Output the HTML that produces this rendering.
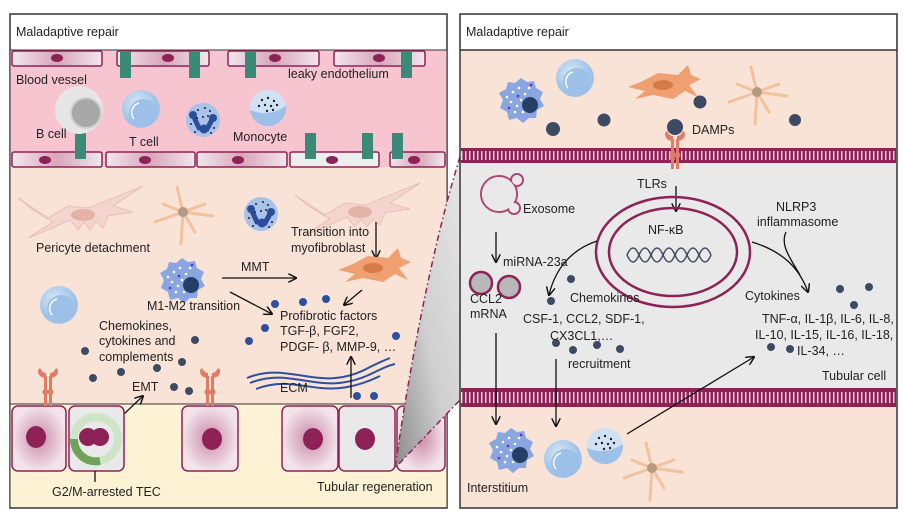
<!DOCTYPE html>
<html><head><meta charset="utf-8"><style>
html,body{margin:0;padding:0;background:#fff;}
svg{display:block;font-family:"Liberation Sans",sans-serif;}
text{font-size:12.5px;fill:#222;}
</style></head><body>
<svg width="903" height="516" viewBox="0 0 903 516" xmlns="http://www.w3.org/2000/svg">
<defs>
<linearGradient id="endo" x1="0" x2="1"><stop offset="0" stop-color="#f3e6ec"/><stop offset="0.5" stop-color="#d9a5ba"/><stop offset="1" stop-color="#f3e6ec"/></linearGradient>
<radialGradient id="tub"><stop offset="0" stop-color="#c98aa6"/><stop offset="1" stop-color="#f3e3ea"/></radialGradient>
<linearGradient id="wedge" x1="0" y1="1" x2="1" y2="0"><stop offset="0" stop-color="#8a8a8a"/><stop offset="0.45" stop-color="#cfcfcf"/><stop offset="1" stop-color="#e6e6e6"/></linearGradient>
<radialGradient id="tcell" cx="0.4" cy="0.35"><stop offset="0" stop-color="#d8e8f7"/><stop offset="1" stop-color="#9fc3e8"/></radialGradient>
<g id="recep" fill="#e07b66">
<rect x="-4" y="0" width="3" height="30"/><rect x="1" y="0" width="3" height="30"/>
<path d="M-2,2 C-10,2 -12,-6 -8,-8 C-6,-4 -4,-3 -2,-3Z"/><path d="M2,2 C10,2 12,-6 8,-8 C6,-4 4,-3 2,-3Z"/>
<circle cx="-2.5" cy="16" r="3"/><circle cx="2.5" cy="16" r="3"/>
</g>
<g id="macro">
<path d="M0,-22 L6,-18 L13,-19 L15,-12 L22,-8 L19,-1 L23,6 L16,10 L15,18 L8,18 L2,23 L-4,18 L-12,20 L-14,12 L-21,8 L-18,0 L-22,-7 L-15,-11 L-13,-18 L-6,-17Z" fill="#8aa6e0"/>
<g fill="#fff"><circle cx="-8" cy="-8" r="1.3"/><circle cx="-2" cy="-12" r="1.3"/><circle cx="4" cy="-6" r="1.3"/><circle cx="-10" cy="2" r="1.3"/><circle cx="-4" cy="6" r="1.3"/><circle cx="0" cy="0" r="1.3"/><circle cx="8" cy="-12" r="1.3"/><circle cx="-14" cy="-3" r="1.3"/><circle cx="-6" cy="12" r="1.3"/><circle cx="2" cy="12" r="1.3"/></g>
<g fill="#6a2bc0"><circle cx="10" cy="-15" r="1.3"/><circle cx="-12" cy="8" r="1.3"/><circle cx="15" cy="2" r="1.3"/><circle cx="-3" cy="-4" r="1.3"/></g>
<circle cx="9" cy="5" r="8" fill="#243f66"/>
</g>
<g id="neut"><circle r="17" fill="#a9c2ea"/><path d="M-10,-5 L-4,8 L4,9 L10,-2" stroke="#2b4d9a" stroke-width="5" fill="none" stroke-linecap="round"/><circle cx="-10" cy="-5" r="4" fill="#2b4d9a"/><circle cx="10" cy="-2" r="4" fill="#2b4d9a"/><circle cx="1" cy="9" r="4.5" fill="#2b4d9a"/>
<g fill="#222"><circle cx="-5" cy="-10" r="1"/><circle cx="2" cy="-12" r="1"/><circle cx="7" cy="-9" r="1"/><circle cx="-12" cy="4" r="1"/><circle cx="11" cy="8" r="1"/><circle cx="0" cy="-3" r="1"/><circle cx="-6" cy="-2" r="1"/><circle cx="5" cy="-4" r="1"/><circle cx="-8" cy="12" r="1"/><circle cx="8" cy="13" r="1"/></g></g>
<g id="tc"><circle r="19" fill="url(#tcell)"/><circle cx="2" cy="4" r="14" fill="#9dc0e8"/><path d="M-7,10 A10,10 0 0 1 -2,-6" stroke="#fff" stroke-width="1.5" fill="none"/></g>
<g id="mono"><circle r="18" fill="#cfe1f3"/><path d="M-18,2 Q0,10 18,-2 A18,18 0 0 1 -18,2Z" fill="#9dc0e8"/><g fill="#222"><circle cx="-6" cy="-8" r="1.2"/><circle cx="0" cy="-10" r="1.2"/><circle cx="6" cy="-7" r="1.2"/><circle cx="-9" cy="-2" r="1.2"/><circle cx="-3" cy="-3" r="1.2"/><circle cx="3" cy="-2" r="1.2"/><circle cx="9" cy="-3" r="1.2"/><circle cx="-1" cy="3" r="1.2"/><circle cx="5" cy="2" r="1.2"/></g></g>
<g id="star" stroke="#f1c29c" stroke-width="3" fill="none" stroke-linecap="round"><path d="M0,0 L-6,-25 M0,0 L22,-8 M0,0 L30,4 M0,0 L12,20 M0,0 L-2,32 M0,0 L-28,10 M0,0 L-20,-8"/><circle r="5" fill="#b39a82" stroke="none"/></g>
<g id="myo"><path d="M-35,0 L-20,-6 L-5,-14 L15,-12 L25,-22 L28,-12 L38,-8 L26,-2 L35,10 L22,4 L10,12 L-10,8 L-28,12 L-18,4Z" fill="#ef9f70"/><ellipse cx="0" cy="-2" rx="10" ry="5" fill="#d67a48"/></g>
<g id="fib"><path d="M-70,-20 L-40,0 L-20,-12 L0,-10 L20,-18 L55,-32 L25,-12 L45,-6 L20,-2 L15,10 L8,4 L2,12 L-4,4 L-10,12 L-18,2 L-40,12 L-60,20 L-35,4 L-55,-8Z" fill="#f3d4ce" stroke="#e8b9b2" stroke-width="0.8"/><ellipse cx="-5" cy="-3" rx="12" ry="6" fill="#e3b3a8"/></g>
<marker id="ah" viewBox="0 0 10 10" refX="9" refY="5" markerWidth="7" markerHeight="7" orient="auto"><path d="M0,0 L10,5 L0,10" fill="none" stroke="#111" stroke-width="1.6"/></marker>
</defs>

<rect x="10" y="14" width="437" height="494" fill="#fff" stroke="#333" stroke-width="1.5"/>
<text x="16" y="36">Maladaptive repair</text>
<rect x="10.5" y="50" width="436" height="117" fill="#f7c5cf"/>
<rect x="10.5" y="167" width="436" height="237" fill="#f9e3d6"/>
<rect x="10.5" y="404" width="436" height="103" fill="#fdf3d4"/>
<line x1="10" y1="404" x2="447" y2="404" stroke="#333"/>
<line x1="10" y1="50" x2="447" y2="50" stroke="#333"/>
<g stroke="#8e2257" stroke-width="1.5" fill="url(#endo)">
<rect x="12" y="51" width="90" height="15" rx="2"/><rect x="117" y="51" width="92" height="15" rx="2"/><rect x="228" y="51" width="91" height="15" rx="2"/><rect x="334" y="51" width="91" height="15" rx="2"/>
<rect x="12" y="152" width="90" height="15" rx="2"/><rect x="106" y="152" width="89" height="15" rx="2"/><rect x="197" y="152" width="90" height="15" rx="2"/><rect x="290" y="152" width="89" height="15" rx="2" fill="#eee"/><rect x="390" y="152" width="55" height="15" rx="2"/>
</g>
<g fill="#8e2257"><ellipse cx="57" cy="58" rx="6" ry="4"/><ellipse cx="168" cy="58" rx="6" ry="4"/><ellipse cx="275" cy="58" rx="6" ry="4"/><ellipse cx="379" cy="58" rx="6" ry="4"/>
<ellipse cx="45" cy="160" rx="6" ry="4"/><ellipse cx="145" cy="160" rx="6" ry="4"/><ellipse cx="238" cy="160" rx="6" ry="4"/><ellipse cx="332" cy="160" rx="6" ry="4"/><ellipse cx="414" cy="160" rx="6" ry="4"/></g>
<g fill="#3b8a78"><rect x="120" y="52" width="11" height="26"/><rect x="189" y="52" width="11" height="26"/><rect x="245" y="52" width="11" height="26"/><rect x="401" y="52" width="11" height="26"/>
<rect x="75" y="133" width="11" height="26"/><rect x="305" y="133" width="11" height="26"/><rect x="362" y="133" width="11" height="26"/><rect x="392" y="133" width="11" height="26"/></g>
<text x="16" y="84">Blood vessel</text>
<text x="288" y="78">leaky endothelium</text>
<circle cx="79" cy="110" r="24" fill="#e6e6e6"/><circle cx="86" cy="113" r="15" fill="#a8a8a8" stroke="#d0d0d0" stroke-width="2"/>
<text x="36" y="138">B cell</text>
<use href="#tc" x="141" y="109"/>
<text x="129" y="146">T cell</text>
<use href="#neut" x="203" y="120"/>
<use href="#mono" x="268" y="108"/>
<text x="233" y="141">Monocyte</text>
<use href="#fib" x="88" y="218"/>
<use href="#star" x="183" y="212"/>
<use href="#neut" x="261" y="214"/>
<use href="#fib" x="365" y="215"/>
<text x="36" y="252">Pericyte detachment</text>
<text x="291" y="236">Transition into</text>
<text x="291" y="252">myofibroblast</text>
<line x1="376" y1="222" x2="376" y2="258" stroke="#111" stroke-width="1.3" marker-end="url(#ah)"/>
<use href="#myo" x="373" y="270"/>
<use href="#macro" x="182" y="280"/>
<text x="147" y="310">M1-M2 transition</text>
<text x="241" y="271">MMT</text>
<line x1="222" y1="278" x2="296" y2="278" stroke="#111" stroke-width="1.3" marker-end="url(#ah)"/>
<line x1="230" y1="292" x2="272" y2="314" stroke="#111" stroke-width="1.3" marker-end="url(#ah)"/>
<line x1="362" y1="290" x2="344" y2="305" stroke="#111" stroke-width="1.3" marker-end="url(#ah)"/>
<use href="#tc" x="59" y="305"/>
<text x="280" y="320">Profibrotic factors</text>
<text x="280" y="335">TGF-β,  FGF2,</text>
<text x="280" y="351">PDGF- β, MMP-9, …</text>
<text x="99" y="330">Chemokines,</text>
<text x="99" y="345">cytokines and</text>
<text x="99" y="361">complements</text>
<g fill="#2d4f9e"><circle cx="275" cy="304" r="4"/><circle cx="303" cy="302" r="4"/><circle cx="326" cy="299" r="4"/><circle cx="265" cy="328" r="4"/><circle cx="249" cy="341" r="4"/><circle cx="396" cy="336" r="4"/><circle cx="357" cy="396" r="4"/><circle cx="374" cy="396" r="4"/></g>
<g fill="#3d4a63"><circle cx="195" cy="340" r="4"/><circle cx="85" cy="351" r="4"/><circle cx="182" cy="362" r="4"/><circle cx="157" cy="368" r="4"/><circle cx="121" cy="372" r="4"/><circle cx="93" cy="378" r="4"/><circle cx="174" cy="387" r="4"/><circle cx="189" cy="391" r="4"/></g>
<text x="132" y="391">EMT</text>
<g stroke="#2d4f9e" stroke-width="2" fill="none"><path d="M247,378 C290,360 320,395 370,367 C380,362 385,360 390,358"/><path d="M250,383 C295,365 320,400 375,372 C385,367 390,365 395,364"/><path d="M256,389 C300,372 320,405 380,376"/></g>
<text x="280" y="392">ECM</text>
<line x1="351" y1="398" x2="351" y2="357" stroke="#111" stroke-width="1.3" marker-end="url(#ah)"/>
<line x1="124" y1="414" x2="143" y2="396" stroke="#111" stroke-width="1.3" marker-end="url(#ah)"/>
<g stroke="#8e2257" stroke-width="1.5">
<rect x="12" y="406" width="54" height="65" rx="6" fill="url(#tub)"/>
<rect x="69" y="406" width="55" height="65" rx="6" fill="#e9e9e9"/>
<rect x="182" y="406" width="56" height="65" rx="6" fill="url(#tub)"/>
<rect x="282" y="406" width="56" height="65" rx="6" fill="url(#tub)"/>
<rect x="339" y="406" width="56" height="65" rx="6" fill="#e9e9e9"/>
<rect x="397" y="406" width="48" height="65" rx="6" fill="url(#tub)"/>
</g>
<g fill="#8e2257"><ellipse cx="36" cy="437" rx="10" ry="11"/><ellipse cx="212" cy="439" rx="10" ry="11"/><ellipse cx="313" cy="439" rx="10" ry="11"/><ellipse cx="365" cy="439" rx="10" ry="11"/></g>
<circle cx="96" cy="439" r="22" fill="none" stroke="#cfe3c6" stroke-width="8"/>
<path d="M74,439 A22,22 0 0 0 100,461" fill="none" stroke="#6fa25a" stroke-width="8"/>
<g fill="#8e2257"><circle cx="88" cy="437" r="9"/><circle cx="100" cy="437" r="9"/></g>
<line x1="95" y1="471" x2="95" y2="482" stroke="#111" stroke-width="1.3"/>
<text x="52" y="496">G2/M-arrested TEC</text>
<text x="317" y="491">Tubular  regeneration</text>
<use href="#recep" x="48" y="376"/>
<use href="#recep" x="210" y="376"/>

<path d="M460,157 C440,220 415,330 395,468 L460,400 Z" fill="url(#wedge)"/>
<path d="M460,157 C440,220 415,330 395,468 L460,400" fill="none" stroke="#8e2257" stroke-width="1.5" stroke-dasharray="6,3,1.5,3"/>

<rect x="460" y="14" width="437" height="494" fill="#f9e3d6" stroke="#333" stroke-width="1.5"/>
<rect x="461" y="15" width="435" height="35" fill="#fff"/>
<line x1="460" y1="50" x2="897" y2="50" stroke="#333" stroke-width="1.5"/>
<text x="466" y="36">Maladaptive repair</text>
<rect x="461" y="163" width="435" height="225" fill="#e9e9e9"/>
<rect x="461" y="148" width="435" height="15" fill="#8e2257"/>
<line x1="461" y1="155.5" x2="896" y2="155.5" stroke="#f4e6ee" stroke-width="9" stroke-dasharray="1.4,2.6"/>
<rect x="461" y="388" width="435" height="19" fill="#8e2257"/>
<line x1="461" y1="397.5" x2="896" y2="397.5" stroke="#f4e6ee" stroke-width="11" stroke-dasharray="1.4,2.6"/>
<use href="#macro" x="521" y="100"/>
<use href="#tc" x="575" y="78"/>
<use href="#myo" x="663" y="87"/>
<use href="#star" x="757" y="92"/>
<g fill="#3d4a63"><circle cx="553" cy="129" r="7"/><circle cx="604" cy="120" r="6.5"/><circle cx="700" cy="102" r="6.5"/><circle cx="795" cy="120" r="6"/><circle cx="675" cy="127" r="8"/></g>
<text x="692" y="134">DAMPs</text>
<use href="#recep" x="675" y="139"/>
<text x="637" y="188">TLRs</text>
<line x1="676" y1="186" x2="676" y2="211" stroke="#111" stroke-width="1.3" marker-end="url(#ah)"/>
<g fill="none" stroke="#b0466f" stroke-width="2"><circle cx="499" cy="194" r="18"/><circle cx="517" cy="180" r="6"/><circle cx="514" cy="208" r="6"/></g>
<g fill="#e9e9e9"><circle cx="499" cy="194" r="17"/><circle cx="517" cy="180" r="5"/><circle cx="514" cy="208" r="5"/></g>
<text x="523" y="213">Exosome</text>
<line x1="496" y1="232" x2="496" y2="262" stroke="#111" stroke-width="1.3" marker-end="url(#ah)"/>
<text x="503" y="266">miRNA-23a</text>
<g fill="#b8b8b8" stroke="#8e2257" stroke-width="2.5"><circle cx="481" cy="283" r="11"/><circle cx="509" cy="287" r="11"/></g>
<text x="470" y="303">CCL2</text>
<text x="470" y="318">mRNA</text>
<ellipse cx="673" cy="252" rx="77" ry="55" fill="none" stroke="#8e2257" stroke-width="2.5"/>
<ellipse cx="673" cy="252" rx="64" ry="44" fill="none" stroke="#8e2257" stroke-width="2.5"/>
<text x="648" y="234">NF-κB</text>
<g stroke="#3d4a63" stroke-width="1.5" fill="none"><path d="M627,255 q6,-14 12,0 t12,0 t12,0 t12,0 t12,0 t12,0 t12,0"/><path d="M627,255 q6,14 12,0 t12,0 t12,0 t12,0 t12,0 t12,0 t12,0"/></g>
<path d="M597,241 C570,250 555,270 549,295" fill="none" stroke="#111" stroke-width="1.3" marker-end="url(#ah)"/>
<path d="M752,242 C785,252 800,270 808,292" fill="none" stroke="#111" stroke-width="1.3" marker-end="url(#ah)"/>
<path d="M786,232 C780,245 790,258 800,275" fill="none" stroke="#111" stroke-width="1.3"/>
<text x="776" y="211">NLRP3</text>
<text x="757" y="226">inflammasome</text>
<g fill="#3d4a63"><circle cx="571" cy="279" r="4"/><circle cx="551" cy="301" r="4"/><circle cx="556" cy="343" r="4"/><circle cx="573" cy="350" r="4"/><circle cx="597" cy="345" r="4"/><circle cx="620" cy="349" r="4"/>
<circle cx="840" cy="289" r="4"/><circle cx="869" cy="287" r="4"/><circle cx="854" cy="305" r="4"/><circle cx="771" cy="347" r="4"/><circle cx="790" cy="349" r="4"/></g>
<text x="570" y="302">Chemokines</text>
<text x="523" y="323">CSF-1, CCL2, SDF-1,</text>
<text x="550" y="340">CX3CL1,…</text>
<text x="568" y="368">recruitment</text>
<text x="745" y="300">Cytokines</text>
<text x="762" y="323">TNF-α, IL-1β, IL-6, IL-8,</text>
<text x="755" y="339">IL-10, IL-15, IL-16, IL-18,</text>
<text x="797" y="355">IL-34, …</text>
<text x="822" y="380">Tubular  cell</text>
<line x1="496" y1="333" x2="496" y2="424" stroke="#111" stroke-width="1.3" marker-end="url(#ah)"/>
<line x1="556" y1="359" x2="556" y2="426" stroke="#111" stroke-width="1.3" marker-end="url(#ah)"/>
<line x1="627" y1="434" x2="754" y2="357" stroke="#111" stroke-width="1.3" marker-end="url(#ah)"/>
<use href="#macro" x="511" y="450"/>
<use href="#tc" x="563" y="459"/>
<use href="#mono" x="605" y="446"/>
<use href="#star" x="652" y="468"/>
<text x="467" y="492">Interstitium</text>
</svg>
</body></html>
